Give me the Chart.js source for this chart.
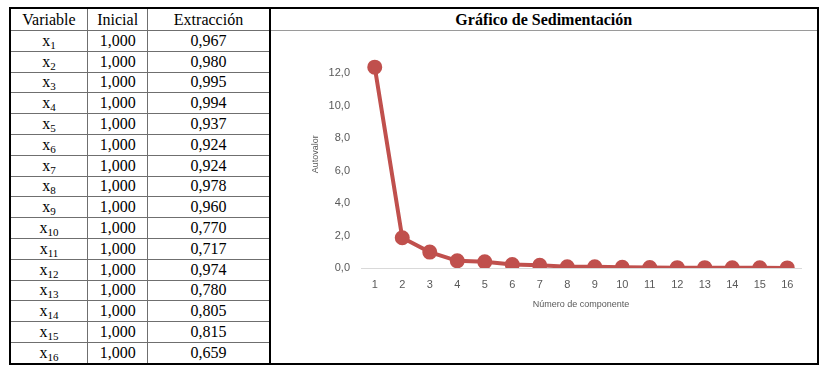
<!DOCTYPE html>
<html>
<head>
<meta charset="utf-8">
<script src="https://cdn.jsdelivr.net/npm/chart.js@4/dist/chart.umd.min.js"></script>
<style>
    html, body { margin: 0; padding: 0; background: #fff; overflow: hidden; width: 819px; height: 365px; }
    table {
        position: absolute; left: 9px; top: 7px;
        border-collapse: collapse; table-layout: fixed;
        font-family: "Liberation Serif", "Times New Roman", serif; font-size: 16px; color: #000;
        border: 2px solid #000;
    }
    td, th { padding: 0; text-align: center; border: 1px solid #6f6f6f; line-height: 18px; font-weight: normal; }
    tbody td { height: 19.8px; }
    th { height: 21px; }
    .chartcell { border-left: 2px solid #000; border-right: none; }
    th.chartcell { font-weight: bold; font-family: "Liberation Serif", "Times New Roman", serif; border-bottom: 1px solid #9a9a9a; }
    sub { font-size: 11px; vertical-align: -3px; line-height: 0; }
    #wrap { position: absolute; left: 273px; top: 31px; width: 546px; height: 331px; }
</style>
</head>
<body>
<table id="tbl">
    <colgroup><col style="width:78px"><col style="width:61px"><col style="width:123px"><col style="width:560px"></colgroup>
    <thead>
        <tr><th>Variable</th><th>Inicial</th><th>Extracción</th><th class="chartcell">Gráfico de Sedimentación</th></tr>
    </thead>
    <tbody id="rows"></tbody>
</table>
<div id="wrap"><canvas id="chart"></canvas></div>
<script>
const variables = ['1', '2', '3', '4', '5', '6', '7', '8', '9', '10', '11', '12', '13', '14', '15', '16'];
const inicial = ['1,000', '1,000', '1,000', '1,000', '1,000', '1,000', '1,000', '1,000', '1,000', '1,000', '1,000', '1,000', '1,000', '1,000', '1,000', '1,000'];
const extraccion = ['0,967', '0,980', '0,995', '0,994', '0,937', '0,924', '0,924', '0,978', '0,960', '0,770', '0,717', '0,974', '0,780', '0,805', '0,815', '0,659'];

const componentes = ['1', '2', '3', '4', '5', '6', '7', '8', '9', '10', '11', '12', '13', '14', '15', '16'];
const autovalores = [12.36, 1.86, 0.98, 0.44, 0.38, 0.21, 0.17, 0.08, 0.07, 0.04, 0.03, 0.02, 0.02, 0.01, 0.01, 0.005];
const yTicks = [0, 2, 4, 6, 8, 10, 12];

function buildTable() {
    const body = document.getElementById('rows');
    variables.forEach((v, i) => {
        const tr = document.createElement('tr');
        tr.innerHTML = `<td>x<sub>${v}</sub></td><td>${inicial[i]}</td><td>${extraccion[i]}</td>`;
        if (i === 0) tr.innerHTML += `<td class="chartcell" rowspan="16"></td>`;
        body.appendChild(tr);
    });
}

function createChart(ctx) {
    const tickFont = { family: '"Liberation Sans", Arial, sans-serif', size: 11 };
    const titleFont = { family: '"Liberation Sans", Arial, sans-serif', size: 9 };
    new Chart(ctx, {
        type: 'line',
        data: {
            labels: componentes,
            datasets: [{
                data: autovalores,
                borderColor: '#c0504d',
                backgroundColor: '#c0504d',
                borderWidth: 4,
                pointRadius: 5.5,
                pointHoverRadius: 5.5,
                tension: 0
            }]
        },
        options: {
            responsive: true,
            maintainAspectRatio: false,
            animation: false,
            events: [],
            layout: { padding: { top: 4, right: 18, left: 0, bottom: 52 } },
            plugins: { legend: { display: false }, tooltip: { enabled: false } },
            scales: {
                x: {
                    offset: true,
                    grid: { display: false, drawTicks: false },
                    border: { display: true, color: '#d9d9d9', width: 1 },
                    ticks: { color: '#595959', font: tickFont, padding: 10, maxRotation: 0 },
                    title: {
                        display: true, text: 'Número de componente', color: '#595959',
                        font: titleFont, padding: { top: 4, bottom: 0 }
                    },
                    afterFit: scale => { scale.height = 42; }
                },
                y: {
                    min: 0,
                    max: 14,
                    grid: { display: false, drawTicks: false },
                    border: { display: false },
                    afterBuildTicks: scale => { scale.ticks = yTicks.map(v => ({ value: v })); },
                    ticks: {
                        color: '#595959', font: tickFont, padding: 11,
                        callback: v => v.toFixed(1).replace('.', ',')
                    },
                    title: {
                        display: true, text: 'Autovalor', color: '#595959',
                        font: titleFont, padding: { top: 37, bottom: 0 }
                    },
                    // keep the plot top fixed by the layout padding only
                    afterFit: scale => {
                        scale.width = 88;
                        scale.paddingTop = 0;
                        scale.paddingBottom = 0;
                    }
                }
            }
        }
    });
}

buildTable();
createChart(document.getElementById('chart'));
</script>
</body>
</html>
